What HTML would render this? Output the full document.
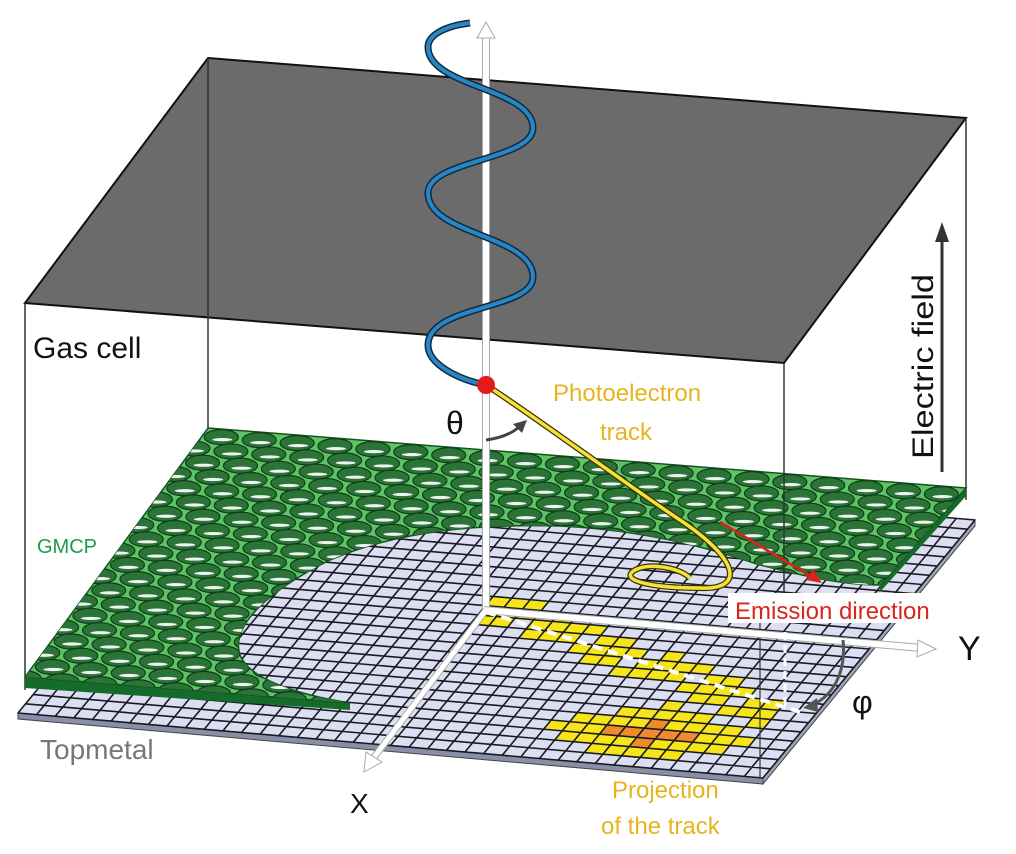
<!DOCTYPE html>
<html><head><meta charset="utf-8"><style>
html,body{margin:0;padding:0;background:#fff;}
svg{display:block;}
text{font-family:"Liberation Sans","DejaVu Sans",sans-serif;}
</style></head><body>
<svg id="s" width="1016" height="854" viewBox="0 0 1016 854" xmlns="http://www.w3.org/2000/svg">
<defs>
<clipPath id="gclip"><path id="gpathc" d=""/></clipPath>
</defs>
<polygon points="208,58 966,118 784,363 25,303" fill="#6b6b6b" stroke="#111" stroke-width="2"/>
<line x1="25" y1="303" x2="25" y2="690" stroke="#333" stroke-width="1.5"/>
<line x1="208" y1="58" x2="208" y2="440" stroke="#333" stroke-width="1.5"/>
<line x1="966" y1="118" x2="966" y2="500" stroke="#333" stroke-width="1.5"/>
<g id="topmetal"></g>
<g id="green"></g>
<line x1="784" y1="363" x2="784" y2="600" stroke="#333" stroke-width="1.5"/>
<line x1="760" y1="600" x2="760" y2="778" stroke="#333" stroke-width="1.2"/>
<g id="axes"></g>
<path d="M470,23 C445,26 428,35 428,47 C428,87 533,88 533,128 C533,160 428,160 428,193 C428,235 533,235 533,277 C533,310 428,305 428,345 C428,365 460,380 486,385" fill="none" stroke="#0d2a44" stroke-width="7"/>
<path d="M470,23 C445,26 428,35 428,47 C428,87 533,88 533,128 C533,160 428,160 428,193 C428,235 533,235 533,277 C533,310 428,305 428,345 C428,365 460,380 486,385" fill="none" stroke="#2a86c2" stroke-width="4"/>
<path d="M486,385 C540,420 620,480 680,520 C740,560 745,590 700,588 C650,588 618,580 635,570 C650,562 680,568 690,578" fill="none" stroke="#3a3200" stroke-width="6"/>
<path d="M486,385 C540,420 620,480 680,520 C740,560 745,590 700,588 C650,588 618,580 635,570 C650,562 680,568 690,578" fill="none" stroke="#f2e23a" stroke-width="3.5"/>
<line x1="720" y1="522" x2="812" y2="577" stroke="#e0201a" stroke-width="2.5"/>
<polygon points="822,583 806,580 813,569" fill="#e0201a"/>
<circle cx="486" cy="385" r="9" fill="#e31b1b"/>
<path d="M486,440 C500,438 512,434 520,426" fill="none" stroke="#444" stroke-width="3"/>
<polygon points="527,420 513,424 522,433" fill="#444"/>
<path d="M843,640 C846,670 835,695 812,705" fill="none" stroke="#555" stroke-width="3"/>
<polygon points="803,708 817,698 818,712" fill="#555"/>
<line x1="942" y1="472" x2="942" y2="240" stroke="#333" stroke-width="3"/>
<polygon points="942,222 935,242 949,242" fill="#333"/>
<text x="33" y="358" font-size="30" fill="#111">Gas cell</text>
<text x="446" y="434" font-size="32" fill="#111">θ</text>
<text x="553" y="401" font-size="24" fill="#e8b41e">Photoelectron</text>
<text x="600" y="440" font-size="24" fill="#e8b41e">track</text>
<text x="37" y="553" font-size="20" fill="#1f9a4a">GMCP</text>
<text x="40" y="759" font-size="28" fill="#777">Topmetal</text>
<text x="350" y="813" font-size="28" fill="#111">X</text>
<text x="958" y="660" font-size="34" fill="#111">Y</text>
<text x="852" y="713" font-size="32" fill="#111">φ</text>
<rect x="728" y="593" width="236" height="30" fill="#fff"/>
<text x="735" y="619" font-size="24" fill="#d9251c">Emission direction</text>
<text x="612" y="798" font-size="24" fill="#e8b41e">Projection</text>
<text x="601" y="834" font-size="24" fill="#e8b41e">of the track</text>
<text transform="translate(933,459) rotate(-90)" font-size="30" fill="#111" textLength="185" lengthAdjust="spacingAndGlyphs">Electric field</text>
</svg>
<script>
(function(){
var NS="http://www.w3.org/2000/svg";
function el(p,t,a){var e=document.createElementNS(NS,t);for(var k in a)e.setAttribute(k,a[k]);p.appendChild(e);return e;}
var tm=document.getElementById("topmetal");
var BL=[230,455],U=[745,65],V=[-212,258];
function P(s,t){return [BL[0]+s*U[0]+t*V[0],BL[1]+s*U[1]+t*V[1]];}
var c00=P(0,0),c10=P(1,0),c11=P(1,1),c01=P(0,1);
el(tm,"polygon",{points:[c01,c11,[c11[0],c11[1]+6],[c01[0],c01[1]+6]].map(String).join(" "),fill:"#8a8fa8",stroke:"#444","stroke-width":"1"});
el(tm,"polygon",{points:[c10,c11,[c11[0],c11[1]+6],[c10[0],c10[1]+6]].map(String).join(" "),fill:"#a0a4bb",stroke:"#444","stroke-width":"1"});
el(tm,"polygon",{points:[c00,c10,c11,c01].map(String).join(" "),fill:"#dcdff2",stroke:"#333","stroke-width":"1"});
var NC=40,NR=28;
function cell(i,j,col){var a=P(i/NC,j/NR),b=P((i+1)/NC,j/NR),c=P((i+1)/NC,(j+1)/NR),d=P(i/NC,(j+1)/NR);el(tm,"polygon",{points:[a,b,c,d].map(String).join(" "),fill:col});}
for(var i=19;i<=37;i++){var r=13+(i-19)*(8/18);for(var j=Math.floor(r)-1;j<=Math.floor(r)+1;j++){if((i+j)%5!=0)cell(i,j,"#f5e51a");}}
for(var i=27;i<=37;i++)for(var j=21;j<=26;j++){var d=Math.abs(i-32)/5+Math.abs(j-24)/2.6;if(d<1.2)cell(i,j,d<0.5?"#f08a2a":"#f5e51a");}
var g="";
for(var i=0;i<=NC;i++){var a=P(i/NC,0),b=P(i/NC,1);g+="M"+a+"L"+b;}
for(var j=0;j<=NR;j++){var a=P(0,j/NR),b=P(1,j/NR);g+="M"+a+"L"+b;}
el(tm,"path",{d:g,stroke:"#1a1a22","stroke-width":"1.6",fill:"none"});
var gr=document.getElementById("green");
var gshape="M208,428 L966,488 L880,585 C840,585 800,575 760,565 C700,545 640,530 560,526 C480,524 400,530 330,560 C270,590 230,625 240,655 C250,680 300,695 350,703 L25,677 Z";
el(gr,"path",{d:"M25,677 L350,703 L350,710 L25,688 Z",fill:"#156b2a"});
el(gr,"path",{d:"M966,488 L966,496 L880,592 L880,585 Z",fill:"#156b2a"});
el(gr,"path",{d:gshape,fill:"#5cc463",stroke:"#14531f","stroke-width":"1.5"});
document.getElementById("gpathc").setAttribute("d",gshape);
var hg=el(gr,"g",{"clip-path":"url(#gclip)"});
var GB=[208,428],GU=[758,60],GV=[-183,249];
for(var r=0;r<20;r++){for(var c=-1;c<22;c++){var s=(c+(r%2?0.5:0)+0.5)/20,t=(r+0.6)/19.5;var x=GB[0]+s*GU[0]+t*GV[0],y=GB[1]+s*GU[1]+t*GV[1];
el(hg,"ellipse",{cx:x,cy:y,rx:17,ry:7.5,fill:"#2b7337",stroke:"#0f3d18","stroke-width":"1.2"});
el(hg,"ellipse",{cx:x+1,cy:y+2.5,rx:10,ry:1.6,fill:"#eef2f0"});}}
var ax=document.getElementById("axes");
function axis(x1,y1,x2,y2,w){el(ax,"line",{x1:x1,y1:y1,x2:x2,y2:y2,stroke:"#aaa","stroke-width":w+2});el(ax,"line",{x1:x1,y1:y1,x2:x2,y2:y2,stroke:"#fff","stroke-width":w});}
axis(486,610,486,36,6);
el(ax,"polygon",{points:"486,22 477,38 495,38",fill:"#fff",stroke:"#aaa","stroke-width":"1"});
axis(484,610,922,648,6);
el(ax,"polygon",{points:"936,649 918,640 917,657",fill:"#fff",stroke:"#aaa","stroke-width":"1"});
axis(486,610,372,760,5);
el(ax,"polygon",{points:"364,772 366,752 382,762",fill:"#fff",stroke:"#aaa","stroke-width":"1"});
el(ax,"path",{d:"M486,612 L800,712",stroke:"#fff","stroke-width":"4","stroke-dasharray":"10,6",fill:"none"});
el(ax,"path",{d:"M785,632 L785,705",stroke:"#fff","stroke-width":"3","stroke-dasharray":"8,5",fill:"none"});
})();
</script>
</body></html>
